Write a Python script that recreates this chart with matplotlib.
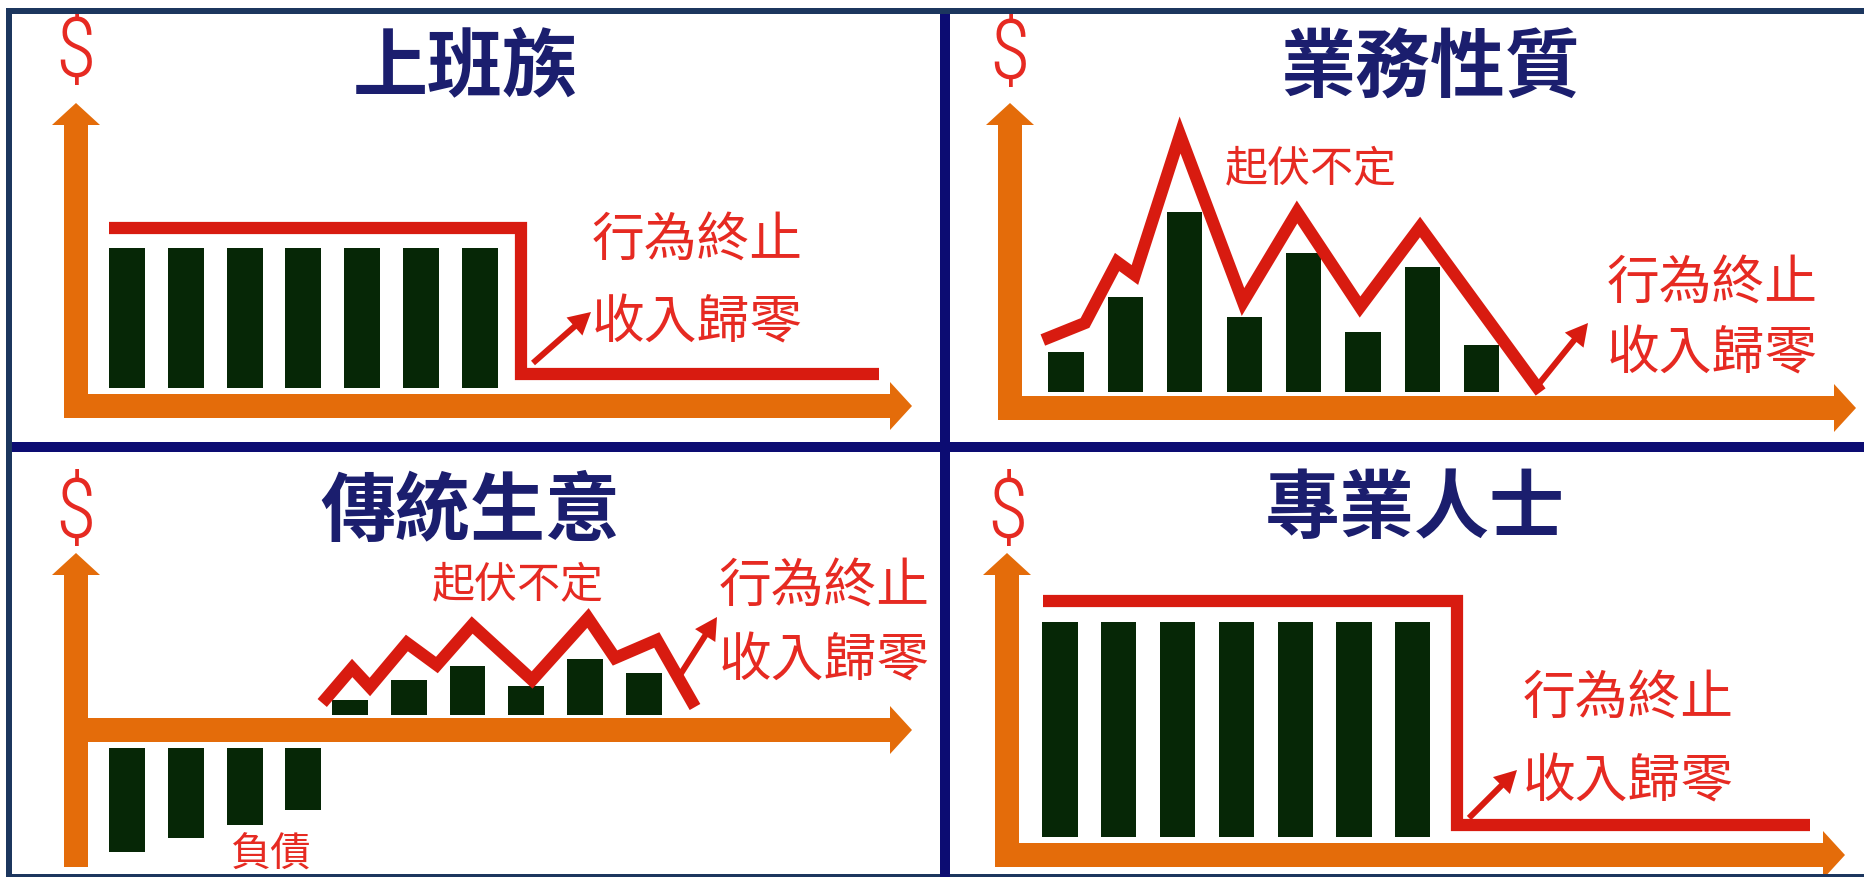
import numpy as np
import matplotlib
matplotlib.use('Agg')
import matplotlib.pyplot as plt
from matplotlib import font_manager
from matplotlib.patches import Rectangle, FancyArrow

plt.rcParams['font.family'] = ['Noto Sans CJK TC', 'DejaVu Sans']

W, H = 1864, 877

# ---- data ----
titles = ['上班族', '業務性質', '傳統生意', '專業人士']
stop_lines = ['行為終止', '收入歸零']
swing_label = '起伏不定'
debt_label = '負債'

# 上班族: flat pay, then stops
salary_bars = [14, 14, 14, 14, 14, 14, 14]
salary_level = 16.0
salary_after = 1.4
salary_span = [-0.31, 6.70, 12.79]      # start, stop, end of income line

# 業務性質: commission goes up and down
sales_bars = [4.0, 9.5, 18.0, 7.5, 13.9, 6.0, 12.5, 4.7]
sales_line_t = [-0.39, 0.32, 0.86, 1.16, 1.92, 2.98, 3.89, 4.95, 5.96, 7.99]
sales_line_v = [5.2, 6.9, 13.0, 11.7, 25.7, 9.0, 18.0, 8.5, 16.5, 0.0]

# 傳統生意: debt first, then uneven profit
debt_bars = [-10.4, -9.0, -7.7, -6.2]
biz_bars = [1.5, 3.5, 4.9, 2.9, 5.6, 4.2]
biz_line_t = [3.32, 3.83, 4.13, 4.76, 5.27, 5.87, 6.89, 7.84, 8.30, 9.01, 9.66]
biz_line_v = [2.7, 6.2, 4.3, 8.7, 6.5, 10.5, 5.0, 11.2, 7.2, 9.0, 2.3]

# 專業人士: higher flat pay, then stops
pro_bars = [21.5, 21.5, 21.5, 21.5, 21.5, 21.5, 21.5]
pro_level = 23.6
pro_after = 1.2
pro_span = [-0.29, 6.75, 12.76]

ORANGE = '#E46C0A'
BAR = '#062706'
RED = '#D81B10'
TXT_RED = '#E62A22'
NAVY = '#1B1E6E'
FRAME = '#1C365E'
DIVIDER = '#0C0C72'

# a narrow face for the "$" if one is installed
installed = {f.name for f in font_manager.fontManager.ttflist}
narrow = [n for n in ['Liberation Sans Narrow', 'Roboto Condensed', 'Open Sans Condensed',
                      'DejaVu Sans Condensed', 'Liberation Sans'] if n in installed]
dollar_font = narrow[0] if narrow else 'DejaVu Sans'

fig = plt.figure(figsize=(W / 100, H / 100), dpi=100)
fig.patch.set_facecolor('white')

# background axes in pixel units for frame, axis arrows and labels
bg = fig.add_axes([0, 0, 1, 1])
bg.set_xlim(0, W)
bg.set_ylim(H, 0)
bg.axis('off')


def rect(x0, y0, x1, y1, color):
    bg.add_patch(Rectangle((x0, y0), x1 - x0, y1 - y0, color=color, lw=0, zorder=5))


rect(6, 8, 12, H, FRAME)
rect(6, 8, W, 14, FRAME)
rect(6, 874, W, H, FRAME)
rect(940, 14, 950, H, DIVIDER)
rect(12, 442, W, 452, DIVIDER)


def block_arrow(x0, y0, x1, y1):
    bg.add_patch(FancyArrow(x0, y0, x1 - x0, y1 - y0, width=24, head_width=48,
                            head_length=22, length_includes_head=True,
                            color=ORANGE, lw=0, zorder=2))


def red_arrow(x0, y0, x1, y1):
    bg.add_patch(FancyArrow(x0, y0, x1 - x0, y1 - y0, width=6, head_width=24,
                            head_length=22, length_includes_head=True,
                            color=RED, lw=0, zorder=4))


def axes_arrows(ax_x, ax_y, y_top, y_bottom, x_tip):
    block_arrow(ax_x, y_bottom, ax_x, y_top)
    block_arrow(ax_x - 12, ax_y, x_tip, ax_y)


def dollar(x, y):
    bg.text(x, y, '$', ha='center', va='center', fontsize=60, color=TXT_RED,
            family=dollar_font, fontweight='light')


def label(x, y, s, size, color=TXT_RED, weight='medium'):
    bg.text(x, y, s, ha='center', va='center', fontsize=size, color=color,
            fontweight=weight)


def panel_axes(box, x0, dx, y0, unit):
    bx0, by0, bx1, by1 = box
    ax = fig.add_axes([bx0 / W, 1 - by1 / H, (bx1 - bx0) / W, (by1 - by0) / H])
    ax.set_xlim((bx0 - x0) / dx, (bx1 - x0) / dx)
    ax.set_ylim((y0 - by1) / unit, (y0 - by0) / unit)
    ax.axis('off')
    ax.patch.set_alpha(0)
    return ax


line_kw = dict(color=RED, lw=8.8, solid_joinstyle='miter', solid_capstyle='butt', zorder=3)

# ---- panel 1: 上班族 ----
axes_arrows(76, 406, 103, 418, 912)
ax1 = panel_axes((12, 14, 940, 442), 127, 58.8, 388, 10)
ax1.bar(np.arange(len(salary_bars)), salary_bars, width=0.61, color=BAR)
ax1.plot([salary_span[0], salary_span[1], salary_span[1], salary_span[2]],
         [salary_level, salary_level, salary_after, salary_after], **line_kw)
red_arrow(533, 363, 591, 312)
dollar(75, 54)
label(465, 68, titles[0], 54, NAVY, 'bold')
label(697, 240, stop_lines[0], 38)
label(697, 323, stop_lines[1], 38)

# ---- panel 2: 業務性質 ----
axes_arrows(1010, 408, 103, 420, 1856)
ax2 = panel_axes((950, 14, W, 442), 1066, 59.4, 392, 10)
ax2.bar(np.arange(len(sales_bars)), sales_bars, width=0.59, color=BAR)
ax2.plot(sales_line_t, sales_line_v, **line_kw)
red_arrow(1538, 385, 1588, 323)
dollar(1010, 56)
label(1430, 70, titles[1], 54, NAVY, 'bold')
label(1311, 170, swing_label, 31)
label(1712, 283, stop_lines[0], 38)
label(1712, 354, stop_lines[1], 38)

# ---- panel 3: 傳統生意 ----
axes_arrows(76, 730, 553, 867, 912)
ax3 = panel_axes((12, 452, 940, 874), 127, 58.8, 730, 10)
ax3.bar(np.arange(len(debt_bars)), debt_bars, width=0.61, bottom=-1.8, color=BAR)
ax3.bar(np.arange(len(debt_bars), len(debt_bars) + len(biz_bars)) - 0.21, biz_bars,
        width=0.61, bottom=1.5, color=BAR)
ax3.plot(biz_line_t, biz_line_v, **line_kw)
red_arrow(680, 675, 717, 617)
dollar(76, 515)
label(470, 513, titles[2], 54, NAVY, 'bold')
label(518, 586, swing_label, 31)
label(824, 586, stop_lines[0], 38)
label(824, 661, stop_lines[1], 38)
label(270, 855, debt_label, 29)

# ---- panel 4: 專業人士 ----
axes_arrows(1007, 855, 553, 867, 1845)
ax4 = panel_axes((950, 452, W, 874), 1060, 58.8, 837, 10)
ax4.bar(np.arange(len(pro_bars)), pro_bars, width=0.6, color=BAR)
ax4.plot([pro_span[0], pro_span[1], pro_span[1], pro_span[2]],
         [pro_level, pro_level, pro_after, pro_after], **line_kw)
red_arrow(1469, 818, 1517, 770)
dollar(1007, 515)
label(1415, 510, titles[3], 54, NAVY, 'bold')
label(1628, 698, stop_lines[0], 38)
label(1628, 782, stop_lines[1], 38)

fig.savefig('out.png', dpi=100)
